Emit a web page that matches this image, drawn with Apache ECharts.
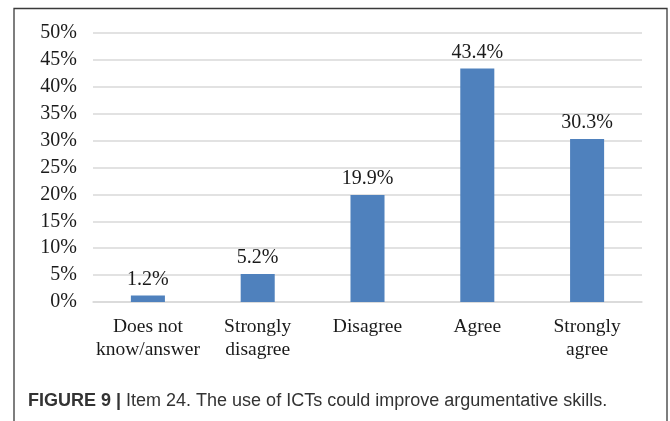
<!DOCTYPE html>
<html>
<head>
<meta charset="utf-8">
<script src="https://cdn.jsdelivr.net/npm/echarts@6/dist/echarts.min.js"></script>
<style>
  html, body { margin: 0; padding: 0; background: #ffffff; }
  #chart { width: 670px; height: 421px; }
</style>
</head>
<body>
<div id="chart"></div>
<script>
// Survey responses, item 24
const categories = ['Does not\nknow/answer', 'Strongly\ndisagree', 'Disagree', 'Agree', 'Strongly\nagree'];
const shares = [1.2, 5.2, 19.9, 43.4, 30.3];
const yTicks = [0, 5, 10, 15, 20, 25, 30, 35, 40, 45, 50];

const serif = '"Liberation Serif", "Times New Roman", serif';
const sans = '"Liberation Sans", Arial, sans-serif';
const chart = echarts.init(document.getElementById('chart'), null, { renderer: 'canvas' });

chart.setOption({
  backgroundColor: '#ffffff',
  animation: false,
  graphic: [
    {
      type: 'rect',
      shape: { x: 14, y: 8.5, width: 653, height: 440 },
      style: { fill: 'none', stroke: '#3a3a3a', lineWidth: 1.3 },
      silent: true
    },
    {
      type: 'text',
      left: 28,
      top: 392,
      style: {
        text: '{b|FIGURE 9 |} Item 24. The use of ICTs could improve argumentative skills.',
        font: '18px ' + sans,
        fill: '#333333',
        rich: {
          b: { font: 'bold 18px ' + sans, fill: '#333333' }
        }
      }
    }
  ],
  grid: { left: 93, right: 28, top: 33, bottom: 119, containLabel: false },
  xAxis: {
    type: 'category',
    data: categories,
    axisLine: { show: true, lineStyle: { color: '#d9d9d9', width: 1.5 } },
    axisTick: { show: false },
    axisLabel: {
      color: '#1a1a1a',
      fontFamily: serif,
      fontSize: 19.5,
      lineHeight: 23,
      margin: 13,
      interval: 0
    }
  },
  yAxis: {
    type: 'value',
    min: yTicks[0],
    max: yTicks[yTicks.length - 1],
    interval: 5,
    axisLine: { show: false },
    axisTick: { show: false },
    splitLine: { lineStyle: { color: '#d9d9d9', width: 1.5 } },
    axisLabel: {
      color: '#1a1a1a',
      fontFamily: serif,
      fontSize: 20,
      margin: 16,
      formatter: v => v + '%'
    }
  },
  series: [{
    type: 'bar',
    data: shares,
    barWidth: '31%',
    itemStyle: { color: '#4f81bd' },
    label: {
      show: true,
      position: 'top',
      distance: 6,
      color: '#1a1a1a',
      fontFamily: serif,
      fontSize: 20,
      formatter: p => p.value.toFixed(1) + '%'
    }
  }]
});
</script>
</body>
</html>
